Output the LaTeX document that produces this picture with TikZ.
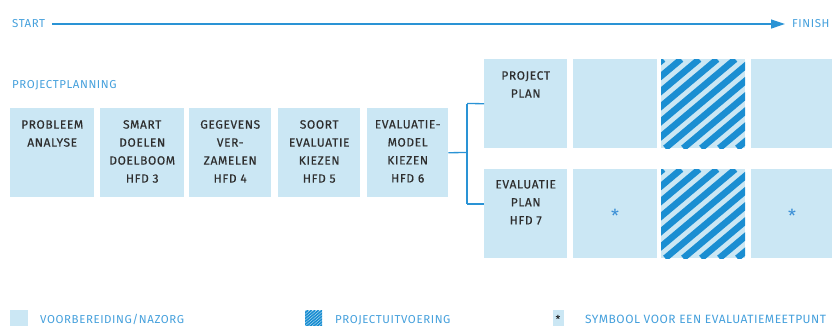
\documentclass[tikz,border=0pt]{standalone}
\usepackage{fontspec}
\setmainfont{Fira Sans}[LetterSpace=5]
\newfontfamily\legfont{Fira Sans}[LetterSpace=4]
\usetikzlibrary{arrows.meta}
\definecolor{lb}{HTML}{CBE7F4}
\definecolor{hb}{HTML}{1A8ED2}
\definecolor{tx}{HTML}{2E2E2E}
\definecolor{bl}{HTML}{45A0DC}
\definecolor{ln}{HTML}{2A93D5}
\definecolor{st}{HTML}{3B8FD6}
\tikzset{
  box/.style={fill=lb, draw=none, inner sep=0pt, minimum width=#1, minimum height=89pt, anchor=north west},
  box/.default=83pt,
  hatch/.style={box=#1, path picture={
     \foreach \k in {-7,...,6}{
       \draw[hb, line width=6.5pt] ([xshift=\k*18pt+4pt]path picture bounding box.south west) -- ++(106pt,89pt);
     }}},
  lbl/.style={text=tx, font=\fontsize{12}{18}\selectfont\addfontfeature{FakeBold=0.4}, align=center, inner sep=0pt, anchor=north},
  blue text/.style={text=bl, font=\fontsize{11.5}{14}\selectfont, inner sep=0pt},
  conn/.style={draw=ln, line width=1.3pt},
  starmark/.style={text=st, font=\fontsize{18}{18}\selectfont, inner sep=0pt},
}
\begin{document}
\begin{tikzpicture}[x=1pt,y=-1pt]
\useasboundingbox (0,0) rectangle (832,325);
\clip (0,0) rectangle (832,325);
% timeline
\node[blue text, anchor=west] (start) at (12,24) {START};
\node[blue text, anchor=west] (finish) at (792,24) {FINISH};
\draw[conn, line width=1.2pt, -{Triangle[length=14pt,width=9pt]}] (start.east) ++(7,0) coordinate (s0) -- ([xshift=-7pt]finish.west);
% section title
\node[blue text, anchor=west] (pp) at (12,85) {PROJECTPLANNING};
% row boxes
\node[box=84pt] (b1) at (10,108) {};
\node[box=84pt] (b2) at (100,108) {};
\node[box=82pt] (b3) at (189,108) {};
\node[box=82pt] (b4) at (278,108) {};
\node[box=81pt] (b5) at (367,108) {};
\node[lbl, yshift=-12pt] at (b1.north) {PROBLEEM\\ANALYSE};
\node[lbl, yshift=-12pt] at (b2.north) {SMART\\DOELEN\\DOELBOOM\\HFD 3};
\node[lbl, yshift=-12pt] at (b3.north) {GEGEVENS\\VER-\\ZAMELEN\\HFD 4};
\node[lbl, yshift=-12pt] at (b4.north) {SOORT\\EVALUATIE\\KIEZEN\\HFD 5};
\node[lbl, yshift=-12pt] at (b5.north) {EVALUATIE-\\MODEL\\KIEZEN\\HFD 6};
% right grid
\node[box] (p1) at (484,59) {};
\node[box=84pt] (p2) at (573,59) {};
\node[hatch=84pt] (p3) at (661,59) {};
\node[box=90pt] (p4) at (751,59) {};
\node[box] (e1) at (484,169) {};
\node[box=84pt] (e2) at (573,169) {};
\node[hatch=84pt] (e3) at (661,169) {};
\node[box=90pt] (e4) at (751,169) {};
\node[lbl, yshift=-12pt] at (p1.north) {PROJECT\\PLAN};
\node[lbl, yshift=-11pt] at (e1.north) {EVALUATIE\\PLAN\\HFD 7};
\node[starmark, anchor=base] (s1) at (615,222) {*};
\node[starmark, anchor=base] (s2) at (792,222) {*};
% connectors
\coordinate (j) at (467,152.5);
\coordinate (jt) at (467,103.5);
\coordinate (jb) at (467,204);
\draw[conn] (b5.east) -- (j);
\draw[conn] (jt) -- (jb);
\draw[conn] (jt) -- (p1.west);
\draw[conn] (jb) -- (jb -| e1.west);
% legend
\node[fill=lb, inner sep=0pt, minimum width=18pt, minimum height=20pt, anchor=north west] (l1) at (10,310) {};
\node[blue text, anchor=base west] (lt1) at (40,323) {VOORBEREIDING/NAZORG};
\node[fill=lb, inner sep=0pt, minimum width=17pt, minimum height=20pt, anchor=north west,
  path picture={\foreach \k in {-8,...,6}{\draw[hb, line width=1.6pt] ([xshift=\k*3.5pt]path picture bounding box.south west) -- ++(24pt,20pt);}}] (l2) at (305,310) {};
\node[blue text, anchor=base west] (lt2) at (335,323) {PROJECTUITVOERING};
\node[fill=lb, inner sep=0pt, minimum width=11pt, minimum height=20pt, anchor=north west] (l3) at (553,310) {};
\node[text=black, font=\fontsize{11}{11}\selectfont, inner sep=0pt, anchor=base] at (558,323) {*};
\node[blue text, font=\legfont\fontsize{12}{14}\selectfont, anchor=base west] (lt3) at (585,323) {SYMBOOL VOOR EEN EVALUATIEMEETPUNT};
\end{tikzpicture}
\end{document}
